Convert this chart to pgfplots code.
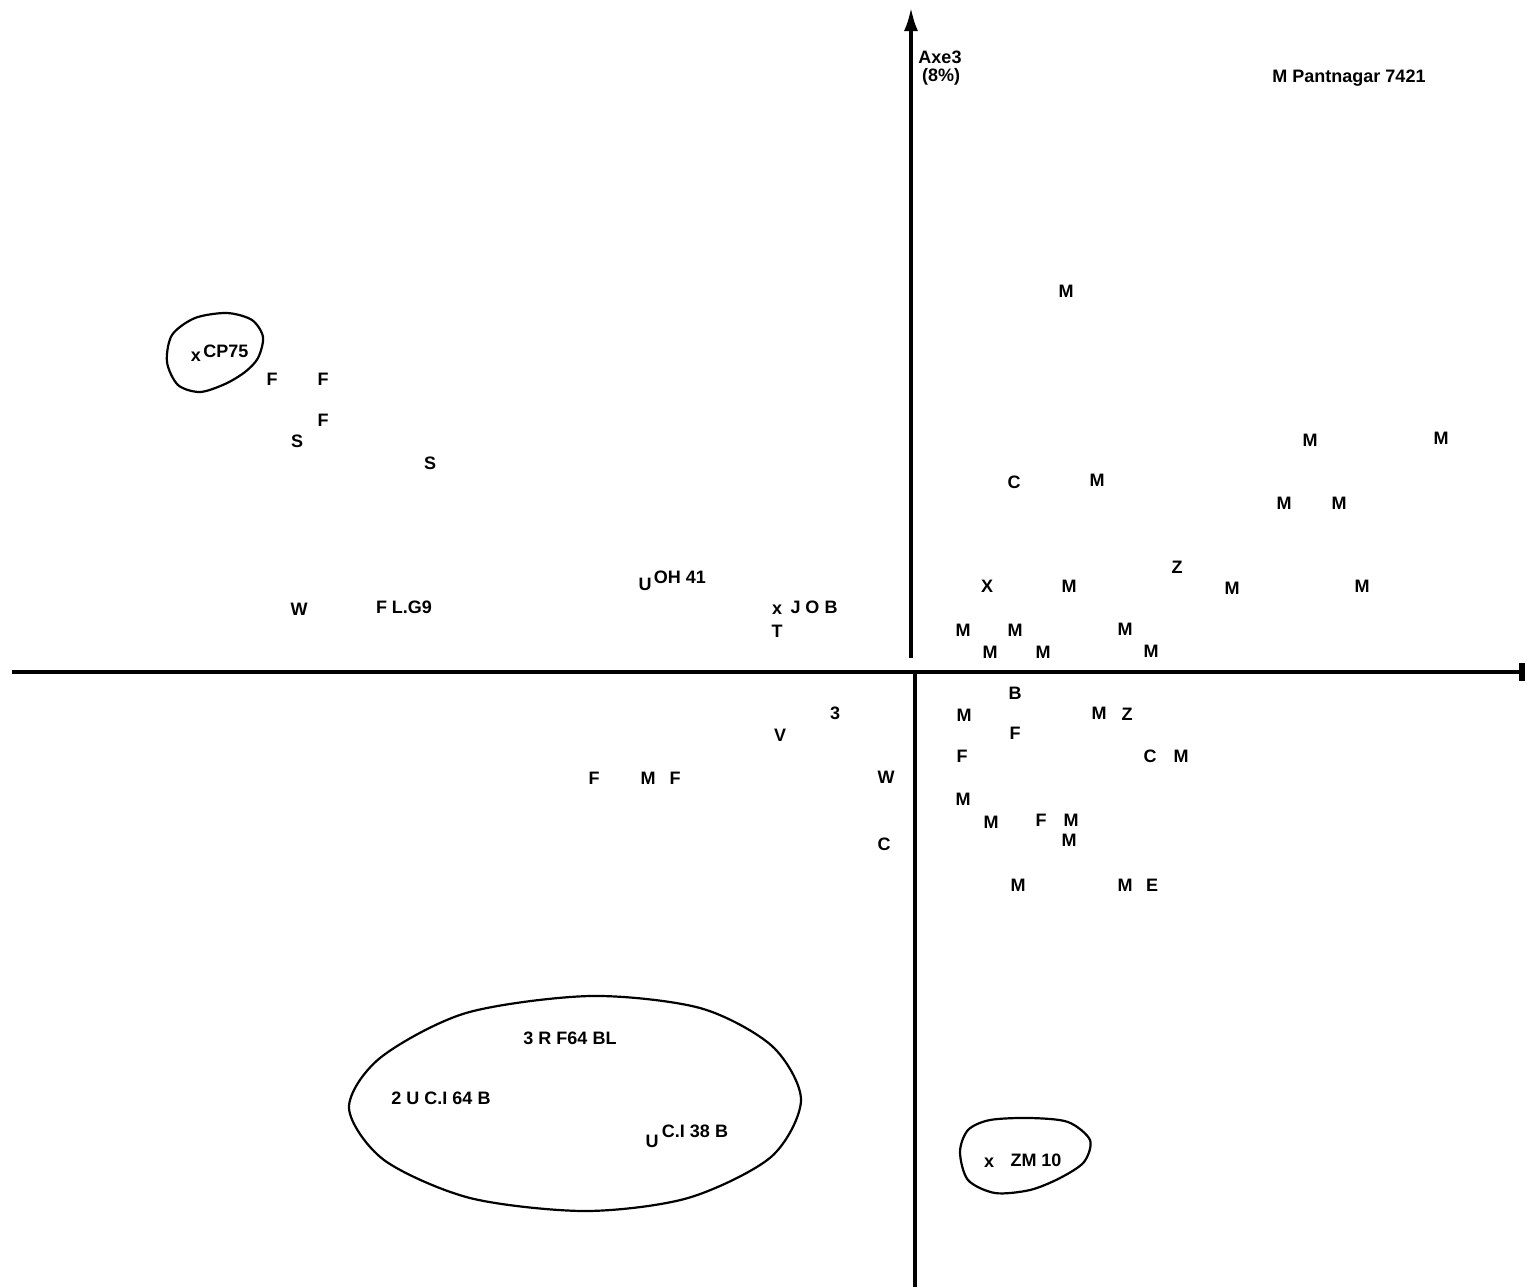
\documentclass[border=0pt]{standalone}
\usepackage{pgfplots}
\pgfplotsset{compat=1.18}
\usepackage{pgfplotstable}
\usepackage{fontspec}
\setmainfont{Liberation Sans}
\usetikzlibrary{arrows.meta}

\pgfplotstableread[col sep=comma]{
x,y,label
940,57,Axe3
941,77,(8\%)
1349,78,M Pantnagar 7421
1066,291,M
196,357,x
226,351,CP75
272,379,F
323,379,F
323,420,F
297,441,S
430,463,S
1310,440,M
1441,438,M
1014,482,C
1097,480,M
1284,503,M
1339,503,M
1177,567,Z
987,586,X
1069,586,M
1232,588,M
1362,586,M
645,584,U
680,577,OH 41
299,609,W
404,607,F L.G9
777,610,x
814,607,J O B
777,631,T
963,630,M
1015,630,M
1125,629,M
990,652,M
1043,652,M
1151,651,M
1015,693,B
964,715,M
1099,713,M
1127,714,Z
1015,733,F
962,756,F
1150,756,C
1181,756,M
963,799,M
991,822,M
1041,820,F
1071,820,M
1069,840,M
1018,885,M
1125,885,M
1152,885,E
835,713,3
780,735,V
594,778,F
648,778,M
675,778,F
886,777,W
884,844,C
570,1038,3 R F64 BL
441,1098,2 U C.I 64 B
652,1141,U
695,1131,C.I 38 B
989,1163,x
1036,1160,ZM 10
}\labels

\begin{document}
\begin{tikzpicture}
\begin{axis}[
  scale only axis,
  width=763.5pt, height=643.5pt,
  xmin=0, xmax=1527, ymin=0, ymax=1287,
  y dir=reverse,
  hide axis,
]
\addplot[draw=none] coordinates {(0,0) (1527,1287)};
% axes
\addplot[line width=2pt, black] coordinates {(12,672) (1520,672)};
\addplot[line width=3pt, black] coordinates {(1522,663) (1522,681)};
\addplot[line width=2pt, black, -{Latex[length=12pt,width=7pt]}] coordinates {(911,658) (911,7)};
\addplot[line width=2pt, black] coordinates {(915,672) (915,1287)};
% enclosing curves
\addplot[line width=1.1pt, black, smooth cycle] coordinates {
(167,362) (172,335) (195,318) (227,313) (252,320) (263,337) (258,358) (245,372) (225,384) (200,392) (178,385)};
\addplot[line width=1.1pt, black, smooth cycle] coordinates {
(801,1100) (771,1157) (688,1198) (585,1211) (470,1198) (384,1160) (349,1108) (380,1058) (466,1013) (590,996) (700,1008) (772,1046)};
\addplot[line width=1.1pt, black, smooth cycle] coordinates {
(960,1152) (968,1130) (990,1120) (1030,1118) (1068,1122) (1090,1140) (1084,1162) (1060,1178) (1030,1190) (995,1193) (968,1180)};
% labels
\addplot[draw=none, nodes near coords, point meta=explicit symbolic,
  nodes near coords style={anchor=center, text=black, inner sep=0pt,
    font=\fontsize{9}{10}\selectfont\bfseries}]
  table[x=x, y=y, meta=label] {\labels};
\end{axis}
\end{tikzpicture}
\end{document}
